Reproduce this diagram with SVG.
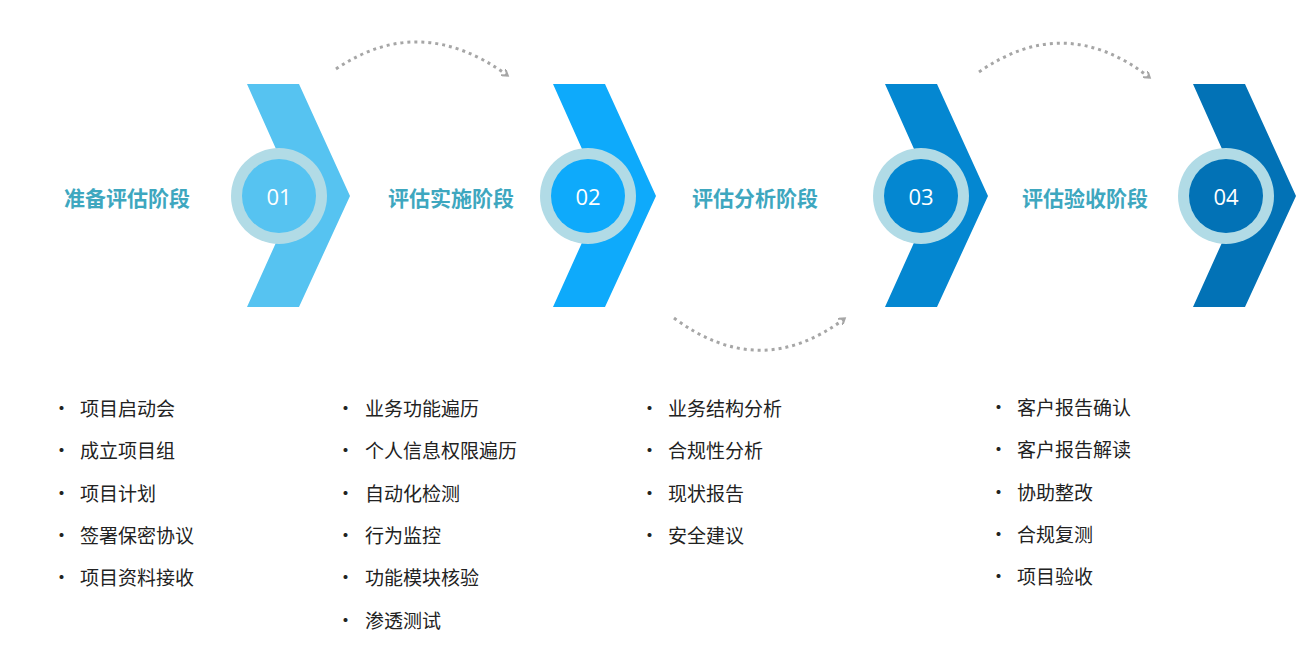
<svg xmlns="http://www.w3.org/2000/svg" width="1311" height="648" viewBox="0 0 1311 648">
<defs>
<style>
.t{font-family:"Noto Sans CJK SC","Liberation Sans",sans-serif;font-size:21px;font-weight:bold;fill:#3ea7bf;text-anchor:middle;dominant-baseline:central}
.n{font-family:"Open Sans","Liberation Sans",sans-serif;font-size:22px;fill:#fff;text-anchor:middle;dominant-baseline:central}
.l{font-family:"Noto Sans CJK SC","Liberation Sans",sans-serif;font-size:19px;fill:#222}
.ring{fill:#b1dbe6}
.arc{fill:none;stroke:#a6a6a6;stroke-width:3;stroke-dasharray:3 4}
</style>
<marker id="ah" markerWidth="8" markerHeight="8" refX="5" refY="4" orient="auto" markerUnits="userSpaceOnUse"><path d="M0,0 L6,4 L0,8" fill="none" stroke="#a6a6a6" stroke-width="2"/></marker>
</defs>
<g id="stage1"><polygon points="247,84 299,84 350,196 299,307 247,307 297,196" fill="#56c3f1"/><circle cx="279" cy="196" r="48" class="ring"/><circle cx="279" cy="196" r="37" fill="#56c3f1"/><text x="279" y="196" class="n">01</text><text x="127" y="197" class="t">准备评估阶段</text></g>
<g id="stage2"><polygon points="553,84 605,84 656,196 605,307 553,307 603,196" fill="#0eaafb"/><circle cx="588" cy="196" r="48" class="ring"/><circle cx="588" cy="196" r="37" fill="#0eaafb"/><text x="588" y="196" class="n">02</text><text x="451" y="197" class="t">评估实施阶段</text></g>
<g id="stage3"><polygon points="885,84 937,84 988,196 937,307 885,307 935,196" fill="#0487d1"/><circle cx="921" cy="196" r="48" class="ring"/><circle cx="921" cy="196" r="37" fill="#0487d1"/><text x="921" y="196" class="n">03</text><text x="755" y="197" class="t">评估分析阶段</text></g>
<g id="stage4"><polygon points="1193,84 1245,84 1296,196 1245,307 1193,307 1243,196" fill="#0272b6"/><circle cx="1226" cy="196" r="48" class="ring"/><circle cx="1226" cy="196" r="37" fill="#0272b6"/><text x="1226" y="196" class="n">04</text><text x="1085" y="197" class="t">评估验收阶段</text></g>
<g id="connectors">
<path class="arc" d="M336,69 Q420,12 507,75" marker-end="url(#ah)"/>
<path class="arc" d="M674,318 Q760,382 844,319" marker-end="url(#ah)"/>
<path class="arc" d="M979,72 Q1065,12 1149,77" marker-end="url(#ah)"/>
</g>
<g id="list1" class="l"><text x="52" y="416">•</text><text x="80" y="416">项目启动会</text><text x="52" y="458">•</text><text x="80" y="458">成立项目组</text><text x="52" y="501">•</text><text x="80" y="501">项目计划</text><text x="52" y="543">•</text><text x="80" y="543">签署保密协议</text><text x="52" y="585">•</text><text x="80" y="585">项目资料接收</text></g>
<g id="list2" class="l"><text x="336" y="416">•</text><text x="365" y="416">业务功能遍历</text><text x="336" y="458">•</text><text x="365" y="458">个人信息权限遍历</text><text x="336" y="501">•</text><text x="365" y="501">自动化检测</text><text x="336" y="543">•</text><text x="365" y="543">行为监控</text><text x="336" y="585">•</text><text x="365" y="585">功能模块核验</text><text x="336" y="628">•</text><text x="365" y="628">渗透测试</text></g>
<g id="list3" class="l"><text x="640" y="416">•</text><text x="668" y="416">业务结构分析</text><text x="640" y="458">•</text><text x="668" y="458">合规性分析</text><text x="640" y="501">•</text><text x="668" y="501">现状报告</text><text x="640" y="543">•</text><text x="668" y="543">安全建议</text></g>
<g id="list4" class="l"><text x="989" y="415">•</text><text x="1017" y="415">客户报告确认</text><text x="989" y="457">•</text><text x="1017" y="457">客户报告解读</text><text x="989" y="500">•</text><text x="1017" y="500">协助整改</text><text x="989" y="542">•</text><text x="1017" y="542">合规复测</text><text x="989" y="584">•</text><text x="1017" y="584">项目验收</text></g>
</svg>
